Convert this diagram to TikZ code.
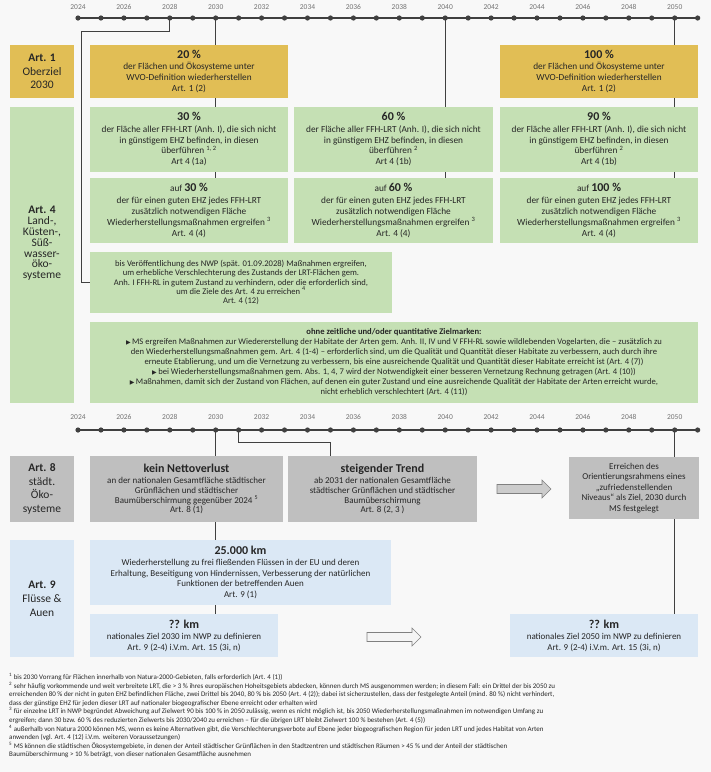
\documentclass[tikz,border=0pt]{standalone}
\usepackage{fontspec}
\setmainfont{Carlito}
\newfontfamily\symfont{DejaVu Sans}
\usepackage{tikz}
\definecolor{gold}{RGB}{225,190,85}
\definecolor{gruen}{RGB}{197,224,180}
\definecolor{grau}{RGB}{191,191,191}
\definecolor{blau}{RGB}{219,232,245}
\definecolor{linie}{RGB}{64,64,64}
\definecolor{hinter}{RGB}{248,248,248}
\newcommand{\zahl}[1]{{\fontsize{12}{12}\selectfont\bfseries #1}}
\newcommand{\dreieck}{{\symfont\fontsize{6}{6}\selectfont ▶}\,}
\newcommand{\fn}[1]{\textsuperscript{#1}}

\begin{document}
\begin{tikzpicture}[x=1pt, y=-1pt,
                  feld/.style={inner sep=0pt, align=center, text=black!85,
                              font=\fontsize{9.3}{10.8}\selectfont},
                  kopf/.style={minimum width=64pt, font=\fontsize{11.5}{13.8}\selectfont},
                  ziel/.style={feld, fill=gold},
                  lrt/.style={feld, fill=gruen},
                  stadt/.style={feld, fill=grau},
                  fluss/.style={feld, fill=blau},
                  zeitachse/.style={line width=1.8pt, draw=linie},
                  verbinder/.style={line width=0.9pt, draw=linie},
                  jahr/.style={font=\fontsize{7.5}{8}\selectfont, text=black!55, inner sep=0pt},
                  pfeil/.style={draw=black!50, line width=0.6pt, line join=miter}]
            \useasboundingbox (0,0) rectangle (711,772);
            \fill[hinter] (0,0) rectangle (711,772);

            % both time axes
            \foreach \j in {0,...,27} {
                  \pgfmathtruncatemacro{\jahrzahl}{2024+\j}
                  \coordinate (oben\jahrzahl) at ({78+22.95*\j},18);
                  \coordinate (unten\jahrzahl) at ({78+22.95*\j},430);
            }
            \coordinate (knick) at (81.7,31);
            \coordinate (knickB) at (330.5,442.7);

            % Art. 1
            \node[ziel, kopf, minimum height=53pt] (art1) at (42,71.5) {\textbf{Art. 1}\\Oberziel\\2030};
            \node[ziel, minimum width=198pt, minimum height=53pt] (ziel20) at (189,71.5)
                  {\zahl{20 \%}\\der Flächen und Ökosysteme unter\\WVO-Definition wiederherstellen\\Art. 1 (2)};
            \node[ziel, minimum width=198pt, minimum height=53pt] (ziel100) at (599,71.5)
                  {\zahl{100 \%}\\der Flächen und Ökosysteme unter\\WVO-Definition wiederherstellen\\Art. 1 (2)};

            % Art. 4
            \node[lrt, kopf, minimum height=296.3pt] (art4) at (42,254.8) {};
            \node[feld, kopf, font=\fontsize{11.5}{10.8}\selectfont] (art4text) at (42,243.4)
                  {\textbf{Art. 4}\\Land-,\\Küsten-,\\Süß-\\wasser-\\öko-\\systeme};
            \node[lrt, minimum width=198pt, minimum height=65pt] (lrt30) at (189,139.2)
                  {\zahl{30 \%}\\[1pt]der Fläche aller FFH-LRT (Anh. I), die sich nicht\\in günstigem EHZ befinden, in diesen\\überführen \fn{1, 2}\\Art 4 (1a)};
            \node[lrt, minimum width=199pt, minimum height=65pt] (lrt60) at (393.5,139.2)
                  {\zahl{60 \%}\\[1pt]der Fläche aller FFH-LRT (Anh. I), die sich nicht\\in günstigem EHZ befinden, in diesen\\überführen \fn{2}\\Art 4 (1b)};
            \node[lrt, minimum width=198pt, minimum height=65pt] (lrt90) at (599,139.2)
                  {\zahl{90 \%}\\[1pt]der Fläche aller FFH-LRT (Anh. I), die sich nicht\\in günstigem EHZ befinden, in diesen\\überführen \fn{2}\\Art 4 (1b)};
            \node[lrt, minimum width=198pt, minimum height=65pt] (auf30) at (189,210.5)
                  {auf \zahl{30 \%}\\[1pt]der für einen guten EHZ jedes FFH-LRT\\zusätzlich notwendigen Fläche\\Wiederherstellungsmaßnahmen ergreifen \fn{3}\\Art. 4 (4)};
            \node[lrt, minimum width=199pt, minimum height=65pt] (auf60) at (393.5,210.5)
                  {auf \zahl{60 \%}\\[1pt]der für einen guten EHZ jedes FFH-LRT\\zusätzlich notwendigen Fläche\\Wiederherstellungsmaßnahmen ergreifen \fn{3}\\Art. 4 (4)};
            \node[lrt, minimum width=198pt, minimum height=65pt] (auf100) at (599,210.5)
                  {auf \zahl{100 \%}\\[1pt]der für einen guten EHZ jedes FFH-LRT\\zusätzlich notwendigen Fläche\\Wiederherstellungsmaßnahmen ergreifen \fn{3}\\Art. 4 (4)};
            \node[lrt, minimum width=302pt, minimum height=61pt, font=\fontsize{8.6}{9.3}\selectfont] (bis) at (241,282.5)
                  {bis Veröffentlichung des NWP (spät. 01.09.2028) Maßnahmen ergreifen,\\um erhebliche Verschlechterung des Zustands  der LRT-Flächen gem.\\Anh. I FFH-RL in gutem Zustand zu verhindern, oder die erforderlich sind,\\um die Ziele des Art. 4 zu erreichen \fn{4}\\Art. 4 (12)};
            \node[lrt, minimum width=608pt, minimum height=81pt, font=\fontsize{8.6}{10}\selectfont] (ohne) at (394,362.5)
                  {\textbf{ohne zeitliche und/oder quantitative Zielmarken:}\\
                   \dreieck MS ergreifen Maßnahmen zur Wiedererstellung der Habitate der Arten gem. Anh. II, IV und V FFH-RL sowie wildlebenden Vogelarten, die – zusätzlich zu\\
                   den Wiederherstellungsmaßnahmen gem. Art. 4 (1-4) – erforderlich sind, um die Qualität und Quantität dieser Habitate zu verbessern, auch durch ihre\\
                   erneute Etablierung, und um die Vernetzung zu verbessern, bis eine ausreichende Qualität und Quantität dieser Habitate erreicht ist (Art. 4 (7))\\
                   \dreieck bei Wiederherstellungsmaßnahmen gem. Abs. 1, 4, 7 wird der Notwendigkeit einer besseren Vernetzung Rechnung getragen (Art. 4 (10))\\
                   \dreieck Maßnahmen, damit sich der Zustand von Flächen, auf denen ein guter Zustand und eine ausreichende Qualität der Habitate der Arten erreicht wurde,\\
                   nicht erheblich verschlechtert (Art. 4 (11))};

            % Art. 8
            \node[stadt, kopf, minimum height=66pt] (art8) at (42,489) {\textbf{Art. 8}\\städt.\\Öko-\\systeme};
            \node[stadt, minimum width=193pt, minimum height=66pt, font=\fontsize{9}{9.6}\selectfont] (kein) at (186.5,489)
                  {\zahl{kein Nettoverlust}\\[2pt]an der nationalen Gesamtfläche städtischer\\Grünflächen und städtischer\\Baumüberschirmung gegenüber 2024 \fn{5}\\Art. 8 (1)};
            \node[stadt, minimum width=189pt, minimum height=66pt, font=\fontsize{9}{9.6}\selectfont] (trend) at (382.5,489)
                  {\zahl{steigender Trend}\\[2pt]ab 2031 der nationalen Gesamtfläche\\städtischer Grünflächen und städtischer\\Baumüberschirmung\\Art. 8 (2, 3 )};
            \node[stadt, minimum width=130pt, minimum height=62pt, font=\fontsize{9}{10.6}\selectfont] (orient) at (634,488)
                  {Erreichen des\\Orientierungsrahmens eines\\„zufriedenstellenden\\Niveaus“ als Ziel, 2030 durch\\MS festgelegt};
            \coordinate (pfeilA) at (497,489);
            \draw[pfeil, fill=grau!80] (pfeilA) ++(0,-4.5) -- ++(45,0) -- ++(0,-4.5) -- ++(9,9) -- ++(-9,9) -- ++(0,-4.5) -- ++(-45,0) -- cycle;

            % Art. 9
            \node[fluss, kopf, minimum height=117pt] (art9) at (42,598.5) {\textbf{Art. 9}\\Flüsse \&\\Auen};
            \node[fluss, minimum width=301pt, minimum height=65pt, font=\fontsize{9}{10.7}\selectfont] (km25) at (240.5,572.5)
                  {\zahl{25.000 km}\\Wiederherstellung zu frei fließenden Flüssen in der EU und deren\\Erhaltung, Beseitigung von Hindernissen, Verbesserung der natürlichen\\Funktionen der betreffenden Auen\\Art. 9 (1)};
            \node[fluss, minimum width=188pt, minimum height=43pt, font=\fontsize{9}{11}\selectfont] (kmA) at (184,635.5)
                  {\zahl{?? km}\\nationales Ziel 2030 im NWP zu definieren\\Art. 9 (2-4) i.V.m. Art. 15 (3i, n)};
            \node[fluss, minimum width=188pt, minimum height=43pt, font=\fontsize{9}{11}\selectfont] (kmB) at (604,635.5)
                  {\zahl{?? km}\\nationales Ziel 2050 im NWP zu definieren\\Art. 9 (2-4) i.V.m. Art. 15 (3i, n)};
            \coordinate (pfeilB) at (367,637);
            \draw[pfeil, fill=black!4] (pfeilB) ++(0,-4.5) -- ++(45,0) -- ++(0,-4.5) -- ++(9,9) -- ++(-9,9) -- ++(0,-4.5) -- ++(-45,0) -- cycle;

            % connectors from the years
            \draw[verbinder] (oben2028) |- (knick) |- (bis.west);
            \draw[verbinder] (oben2030) -- (oben2030 |- ziel20.north);
            \draw[verbinder] (ziel20.south -| oben2030) -- (lrt30.north -| oben2030);
            \draw[verbinder] (lrt30.south -| oben2030) -- (auf30.north -| oben2030);
            \draw[verbinder] (oben2040) -- (oben2040 |- lrt60.north);
            \draw[verbinder] (lrt60.south -| oben2040) -- (auf60.north -| oben2040);
            \draw[verbinder] (oben2050) -- (oben2050 |- ziel100.north);
            \draw[verbinder] (ziel100.south -| oben2050) -- (lrt90.north -| oben2050);
            \draw[verbinder] (lrt90.south -| oben2050) -- (auf100.north -| oben2050);
            \draw[verbinder] (unten2030) -- (unten2030 |- kein.north);
            \draw[verbinder] (kein.south -| unten2030) -- (km25.north -| unten2030);
            \draw[verbinder] (km25.south -| unten2030) -- (kmA.north -| unten2030);
            \draw[verbinder] (unten2031) |- (knickB) -- (knickB |- trend.north);
            \draw[verbinder] (unten2050) -- (unten2050 |- orient.north);
            \draw[verbinder] (orient.south -| unten2050) -- (kmB.north -| unten2050);

            \draw[zeitachse] (oben2024) -- (oben2051);
            \draw[zeitachse] (unten2024) -- (unten2051);
            \foreach \j in {2024,...,2051} {
                  \fill[linie] (oben\j) circle (2.6pt);
                  \fill[linie] (unten\j) circle (2.6pt);
            }
            \foreach \j in {2024,2026,...,2050} {
                  \node[jahr] (jo\j) at ([yshift=11pt]oben\j) {\j};
                  \node[jahr] (ju\j) at ([yshift=13pt]unten\j) {\j};
            }

            % footnotes
            \node[anchor=north west, align=left, inner sep=0pt, text=black!85, font=\fontsize{7}{8.6}\selectfont] (fussnoten) at (9,673)
                  {\fn{1} bis 2030 Vorrang für Flächen innerhalb von Natura-2000-Gebieten, falls erforderlich (Art. 4 (1))\\
                   \fn{2} sehr häufig vorkommende und weit verbreitete LRT, die > 3 \% ihres europäischen Hoheitsgebiets abdecken, können durch MS ausgenommen werden; in diesem Fall: ein Drittel der bis 2050 zu\\
                   erreichenden 80 \% der nicht in guten EHZ befindlichen Fläche, zwei Drittel bis 2040, 80 \% bis 2050 (Art. 4 (2)); dabei ist sicherzustellen, dass der festgelegte Anteil (mind. 80 \%) nicht verhindert,\\
                   dass der günstige EHZ für jeden dieser LRT auf nationaler biogeografischer Ebene erreicht oder erhalten wird\\
                   \fn{3} für einzelne LRT in NWP begründet Abweichung auf Zielwert 90 bis 100 \% in 2050 zulässig, wenn es nicht möglich ist, bis 2050 Wiederherstellungsmaßnahmen im notwendigen Umfang zu\\
                   ergreifen; dann 30 bzw. 60 \% des reduzierten Zielwerts bis 2030/2040 zu erreichen – für die übrigen LRT bleibt Zielwert 100 \% bestehen (Art. 4 (5))\\
                   \fn{4} außerhalb von Natura 2000 können MS, wenn es keine Alternativen gibt,  die Verschlechterungsverbote auf Ebene jeder biogeografischen Region für jeden LRT und jedes Habitat von Arten\\
                   anwenden (vgl. Art. 4 (12) i.V.m. weiteren Voraussetzungen)\\
                   \fn{5} MS können die städtischen Ökosystemgebiete, in denen der Anteil städtischer Grünflächen in den Stadtzentren und städtischen Räumen > 45 \% und der Anteil der städtischen\\
                   Baumüberschirmung > 10 \% beträgt, von dieser nationalen Gesamtfläche ausnehmen};
\end{tikzpicture}
\end{document}
